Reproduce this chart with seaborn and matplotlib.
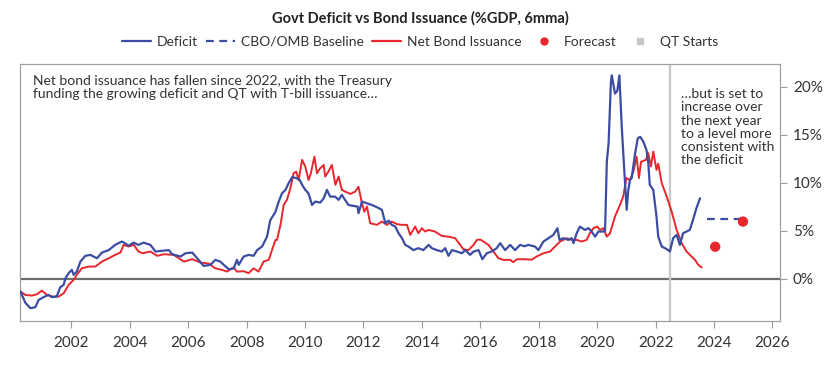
import matplotlib
matplotlib.use("Agg")
import matplotlib.pyplot as plt
from matplotlib.lines import Line2D
from matplotlib.ticker import FuncFormatter
import pandas as pd
import seaborn as sns

# ---- data (% of GDP, 6mma) ----
deficit_years = [
    2000.26, 2000.43, 2000.6, 2000.77, 2000.88, 2001.05, 2001.22, 2001.34, 2001.5, 2001.62,
    2001.74, 2001.8, 2001.91, 2002.02, 2002.08, 2002.19, 2002.31, 2002.48, 2002.65, 2002.88,
    2003.05, 2003.28, 2003.5, 2003.73, 2003.85, 2003.96, 2004.13, 2004.3, 2004.47, 2004.71,
    2004.88, 2005.17, 2005.34, 2005.45, 2005.74, 2005.91, 2006.14, 2006.31, 2006.53, 2006.76,
    2006.93, 2007.1, 2007.22, 2007.39, 2007.56, 2007.67, 2007.73, 2007.9, 2008.07, 2008.24,
    2008.36, 2008.53, 2008.7, 2008.81, 2008.99, 2009.1, 2009.21, 2009.33, 2009.44, 2009.56,
    2009.7, 2009.82, 2009.9, 2010.01, 2010.12, 2010.24, 2010.35, 2010.52, 2010.64, 2010.75,
    2010.86, 2011.03, 2011.15, 2011.26, 2011.37, 2011.49, 2011.66, 2011.8, 2011.83, 2011.95,
    2012.12, 2012.29, 2012.46, 2012.63, 2012.75, 2012.86, 2012.97, 2013.09, 2013.2, 2013.32,
    2013.43, 2013.54, 2013.71, 2013.88, 2014.05, 2014.23, 2014.34, 2014.51, 2014.68, 2014.8,
    2014.91, 2015.03, 2015.2, 2015.37, 2015.48, 2015.65, 2015.77, 2015.94, 2016.07, 2016.22,
    2016.39, 2016.56, 2016.68, 2016.85, 2017.02, 2017.19, 2017.36, 2017.51, 2017.64, 2017.87,
    2017.99, 2018.16, 2018.33, 2018.5, 2018.64, 2018.71, 2018.84, 2019.01, 2019.13, 2019.19,
    2019.3, 2019.41, 2019.58, 2019.7, 2019.81, 2019.93, 2020.04, 2020.21, 2020.27, 2020.33,
    2020.39, 2020.47, 2020.5, 2020.61, 2020.69, 2020.76, 2020.84, 2020.92, 2021.01, 2021.06,
    2021.12, 2021.18, 2021.3, 2021.39, 2021.47, 2021.58, 2021.69, 2021.75, 2021.8, 2021.92,
    2022.03, 2022.09, 2022.21, 2022.32, 2022.43, 2022.49, 2022.6, 2022.72, 2022.83, 2022.94,
    2023.06, 2023.17, 2023.28, 2023.4, 2023.52,
]
deficit_vals = [
    -1.32, -2.5, -3.05, -2.95, -2.2, -1.9, -1.67, -1.9, -1.84, -0.87,
    -0.62, 0.07, 0.6, 0.94, 0.42, 0.76, 1.8, 2.4, 2.5, 2.15,
    2.74, 3.0, 3.54, 3.89, 3.7, 3.44, 3.78, 3.54, 3.78, 3.54,
    2.85, 2.95, 3.0, 2.57, 2.33, 2.67, 2.74, 2.15, 1.35, 1.46,
    1.98, 1.8, 1.46, 1.0, 1.1, 1.98, 1.46, 2.33, 2.5, 2.4,
    3.0, 3.37, 4.4, 6.1, 7.0, 8.05, 8.9, 9.27, 9.97, 10.6,
    10.5, 10.3, 9.8, 9.27, 8.9, 7.7, 8.05, 7.95, 8.4, 9.27,
    8.57, 8.57, 8.23, 8.75, 8.23, 7.7, 7.6, 7.53, 6.84, 8.05,
    7.88, 7.7, 7.47, 7.2, 5.8, 6.07, 5.63, 5.45, 4.76, 4.24,
    3.54, 3.37, 3.0, 3.2, 3.0, 3.54, 3.2, 3.0, 2.85, 3.2,
    2.4, 3.0, 2.85, 2.67, 3.0, 2.5, 2.85, 3.0, 2.05, 2.67,
    2.85, 3.2, 3.72, 3.0, 3.54, 3.0, 3.54, 3.4, 3.54, 3.37,
    3.0, 3.89, 4.24, 4.58, 5.28, 4.06, 4.24, 4.06, 4.24, 3.72,
    4.76, 5.45, 5.1, 5.28, 4.93, 4.4, 4.93, 4.93, 5.0, 12.2,
    14.1, 20.5, 21.2, 19.3, 19.6, 21.2, 15.9, 11.7, 7.2, 9.1,
    10.3, 10.5, 13.1, 14.65, 14.8, 14.3, 13.4, 12.05, 9.8, 9.27,
    6.5, 4.4, 3.37, 3.2, 3.0, 2.85, 4.24, 4.58, 3.54, 4.76,
    4.93, 5.1, 6.15, 7.4, 8.4,
]

bond_years = [
    2000.26, 2000.43, 2000.65, 2000.83, 2000.99, 2001.17, 2001.34, 2001.57, 2001.74, 2001.91,
    2002.08, 2002.19, 2002.36, 2002.59, 2002.82, 2003.05, 2003.28, 2003.5, 2003.68, 2003.79,
    2003.96, 2004.14, 2004.3, 2004.43, 2004.71, 2004.94, 2005.17, 2005.51, 2005.85, 2006.14,
    2006.42, 2006.7, 2006.93, 2007.16, 2007.33, 2007.56, 2007.67, 2007.9, 2008.07, 2008.24,
    2008.41, 2008.58, 2008.76, 2008.87, 2008.99, 2009.04, 2009.16, 2009.27, 2009.38, 2009.5,
    2009.61, 2009.7, 2009.78, 2009.9, 2010.01, 2010.12, 2010.2, 2010.32, 2010.41, 2010.52,
    2010.64, 2010.69, 2010.8, 2010.92, 2011.04, 2011.15, 2011.26, 2011.37, 2011.55, 2011.72,
    2011.83, 2011.95, 2012.03, 2012.12, 2012.23, 2012.46, 2012.63, 2012.8, 2012.97, 2013.15,
    2013.32, 2013.49, 2013.6, 2013.77, 2013.88, 2014.0, 2014.11, 2014.23, 2014.45, 2014.68,
    2014.91, 2015.14, 2015.31, 2015.42, 2015.59, 2015.77, 2015.88, 2016.0, 2016.1, 2016.28,
    2016.45, 2016.62, 2016.79, 2017.02, 2017.13, 2017.25, 2017.51, 2017.76, 2017.93, 2018.16,
    2018.39, 2018.5, 2018.73, 2018.96, 2019.13, 2019.3, 2019.47, 2019.64, 2019.75, 2019.87,
    2020.0, 2020.1, 2020.21, 2020.33, 2020.44, 2020.61, 2020.78, 2020.89, 2021.0, 2021.12,
    2021.24, 2021.35, 2021.43, 2021.5, 2021.67, 2021.75, 2021.84, 2021.92, 2022.03, 2022.09,
    2022.21, 2022.38, 2022.55, 2022.72, 2022.89, 2023.06, 2023.23, 2023.35, 2023.46, 2023.58,
]
bond_vals = [
    -1.32, -1.67, -1.74, -1.6, -1.22, -1.67, -1.84, -1.84, -1.5, -0.62,
    -0.1, 0.42, 1.1, 1.28, 1.28, 1.8, 2.15, 2.5, 2.74, 3.54,
    3.37, 3.54, 2.85, 2.67, 2.85, 2.4, 2.57, 2.5, 1.8, 2.05,
    1.7, 1.6, 1.1, 0.94, 0.76, 1.2, 0.76, 0.8, 0.6, 1.1,
    0.76, 1.8, 1.98, 3.0, 4.06, 4.06, 5.63, 7.7, 8.23, 9.45,
    11.0, 11.18, 10.3, 12.4, 11.7, 10.3, 11.0, 12.74, 11.0, 11.53,
    11.87, 10.66, 11.18, 11.87, 9.8, 10.66, 9.27, 9.1, 8.85, 9.1,
    9.6, 7.88, 7.0, 7.53, 5.8, 5.63, 5.97, 5.63, 5.97, 5.7,
    5.63, 5.63, 4.58, 5.45, 4.76, 5.28, 4.93, 5.1, 4.93, 4.48,
    4.4, 4.24, 3.54, 3.09, 3.0, 3.54, 4.06, 4.1, 3.9, 3.54,
    2.85, 2.15, 1.98, 1.98, 1.74, 2.05, 2.05, 2.0, 2.33, 2.67,
    2.85, 3.2, 3.89, 4.24, 4.06, 4.06, 3.89, 4.06, 4.76, 5.28,
    5.45, 5.1, 5.28, 4.4, 4.76, 6.5, 7.7, 8.57, 10.5, 10.3,
    11.18, 12.74, 10.5, 12.2, 12.4, 13.1, 11.7, 13.26, 11.35, 12.0,
    9.97, 8.57, 7.0, 5.1, 3.72, 2.85, 2.33, 1.98, 1.46, 1.2,
]

baseline_years = [2023.75, 2025.0]
baseline_vals = [6.2, 6.2]
forecast_years = [2024.04, 2024.99]
forecast_vals = [3.35, 5.97]
qt_start = 2022.5

BLUE = "#3b4da3"
RED = "#e8262d"
GREY_TXT = "#333333"

sns.set_style("white")
plt.rcParams["font.family"] = ["Lato", "DejaVu Sans"]

deficit = pd.DataFrame({"year": deficit_years, "pct": deficit_vals})
bond = pd.DataFrame({"year": bond_years, "pct": bond_vals})
baseline = pd.DataFrame({"year": baseline_years, "pct": baseline_vals})
forecast = pd.DataFrame({"year": forecast_years, "pct": forecast_vals})

fig = plt.figure(figsize=(8.4, 3.67), dpi=100)
ax = fig.add_axes([0.024, 0.125, 0.905, 0.701])

ax.axhline(0, color="#6e6e6e", lw=1.6, zorder=1)
ax.axvline(qt_start, color="#c8c8c8", lw=1.6, zorder=1)

sns.lineplot(data=bond, x="year", y="pct", color=RED, lw=1.4, ax=ax, zorder=3)
sns.lineplot(data=deficit, x="year", y="pct", color=BLUE, lw=1.6, ax=ax, zorder=4)
sns.lineplot(data=baseline, x="year", y="pct", color=BLUE, lw=1.6, ax=ax,
             linestyle=(0, (3.5, 2.5)), zorder=4)
sns.scatterplot(data=forecast, x="year", y="pct", color=RED, s=55, ax=ax,
                edgecolor="none", zorder=5)

ax.set_xlim(2000.25, 2026.27)
ax.set_ylim(-4.4, 22.4)
ax.set_xticks(range(2002, 2027, 2))
ax.set_yticks(range(0, 21, 5))
ax.yaxis.set_major_formatter(FuncFormatter(lambda v, _: f"{v:.0f}%"))
ax.yaxis.tick_right()
ax.set_xlabel("")
ax.set_ylabel("")
ax.tick_params(axis="x", direction="out", length=5, width=0.8, color="#999999",
               labelsize=11, labelcolor=GREY_TXT, pad=6, bottom=True)
ax.tick_params(axis="y", direction="out", length=5, width=0.8, color="#999999",
               labelsize=11, labelcolor=GREY_TXT, pad=4, right=True, left=False)
for sp in ax.spines.values():
    sp.set_color("#a0a0a0")
    sp.set_linewidth(0.9)

ax.text(0.017, 0.955,
        "Net bond issuance has fallen since 2022, with the Treasury\n"
        "funding the growing deficit and QT with T-bill issuance\u2026",
        transform=ax.transAxes, ha="left", va="top", fontsize=10,
        color=GREY_TXT, linespacing=1.1)
ax.text(0.869, 0.905,
        "\u2026but is set to\nincrease over\nthe next year\nto a level more\n"
        "consistent with\nthe deficit",
        transform=ax.transAxes, ha="left", va="top", fontsize=10,
        color=GREY_TXT, linespacing=1.12)

fig.text(0.5, 0.951, "Govt Deficit vs Bond Issuance (%GDP, 6mma)",
         ha="center", va="center", fontsize=10.5, fontweight="bold", color="#222222")

handles = [
    Line2D([], [], color=BLUE, lw=1.6),
    Line2D([], [], color=BLUE, lw=1.6, linestyle=(0, (3.5, 2.5))),
    Line2D([], [], color=RED, lw=1.6),
    Line2D([], [], color=RED, lw=0, marker="o", markersize=5),
    Line2D([], [], color="#c8c8c8", lw=0, marker="s", markersize=5),
]
labels = ["Deficit", "CBO/OMB Baseline", "Net Bond Issuance", "Forecast", "QT Starts"]
fig.legend(handles, labels, loc="center", bbox_to_anchor=(0.5, 0.886), ncol=5,
           frameon=False, fontsize=10, handlelength=2.1, handletextpad=0.4,
           columnspacing=0.6, labelcolor=GREY_TXT)

fig.savefig("out.png", dpi=100)
